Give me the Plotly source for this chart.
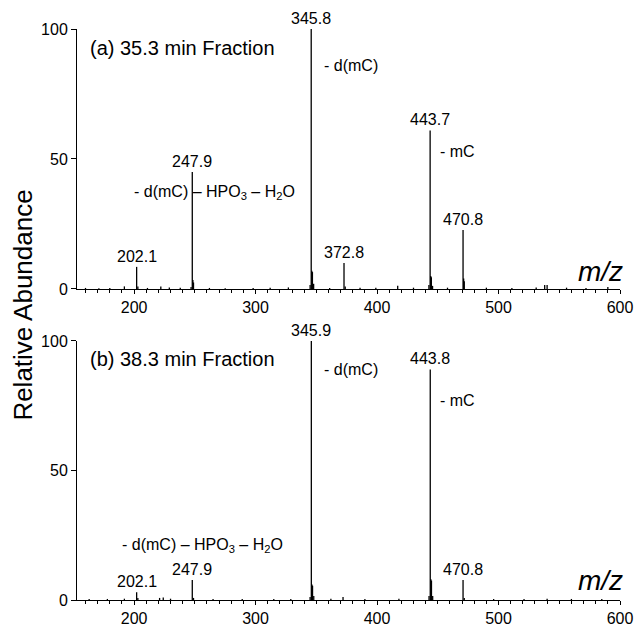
import plotly.graph_objects as go

# ---- data ----
mz_a = [160, 171, 180, 192, 202.1, 203.1, 211, 222, 229, 238, 246.9, 247.9, 248.4, 248.9,
        262, 275, 298, 312, 327, 344.9, 345.8, 346.3, 346.8, 347.8, 361, 372.8, 373.8,
        386, 399, 417, 430, 442.7, 443.7, 444.2, 444.7, 445.7, 458, 470.8, 471.3, 471.8,
        490, 511, 531, 538, 540, 556, 572, 590]
int_a = [0.4, 0.3, 0.4, 1.0, 8.5, 1.0, 0.4, 1.0, 0.6, 0.5, 0.8, 45, 3.5, 2.5,
         0.4, 0.3, 0.4, 0.5, 0.6, 1.5, 100, 7, 6.5, 2, 0.4, 10, 1,
         0.5, 0.5, 1.2, 0.5, 1.5, 61, 5, 4.5, 1.2, 0.5, 22.7, 4, 3,
         0.5, 0.4, 0.6, 1.5, 1.5, 0.5, 0.4, 0.8]

mz_b = [163, 178, 192, 202.1, 203.1, 221, 224, 230, 247.9, 248.9, 265, 289, 315, 329,
        344.9, 345.9, 346.4, 346.9, 347.9, 362, 372, 390, 418, 442.8, 443.8, 444.3, 444.8,
        445.8, 470.8, 471.8, 496, 521, 540, 560, 585]
int_b = [0.4, 0.4, 0.5, 3, 0.8, 0.8, 1, 0.5, 7.7, 0.8, 0.4, 0.4, 0.4, 0.4,
         1.2, 100, 6, 5.5, 1.5, 0.5, 1.2, 0.4, 0.5, 1.5, 89, 8, 7.5,
         1.5, 7.7, 0.8, 0.4, 0.4, 0.5, 0.4, 0.4]

# labelled peaks: (m/z, intensity, label)
labels_a = [(202.1, 8.5, "202.1"), (247.9, 45, "247.9"), (345.8, 100, "345.8"),
            (372.8, 10, "372.8"), (443.7, 61, "443.7"), (470.8, 22.7, "470.8")]
labels_b = [(202.1, 3, "202.1"), (247.9, 7.7, "247.9"), (345.9, 100, "345.9"),
            (443.8, 89, "443.8"), (470.8, 7.7, "470.8")]

titles = ["(a) 35.3 min Fraction", "(b) 38.3 min Fraction"]
x_ticks = [200, 300, 400, 500, 600]
y_ticks = [0, 50, 100]

FONT = "Arial, Liberation Sans, sans-serif"


def sticks(mz, inten):
    xs, ys = [], []
    for m, i in zip(mz, inten):
        xs += [m, m, None]
        ys += [0, i, None]
    return xs, ys


fig = go.Figure()
for k, (mz, inten) in enumerate([(mz_a, int_a), (mz_b, int_b)]):
    xs, ys = sticks(mz, inten)
    fig.add_trace(go.Scatter(x=xs, y=ys, mode="lines",
                             line=dict(color="black", width=1.3),
                             xaxis="x" if k == 0 else "x2",
                             yaxis="y" if k == 0 else "y2",
                             showlegend=False, hoverinfo="skip"))

axis_common = dict(showline=True, linecolor="black", linewidth=1, mirror=False,
                   showgrid=False, zeroline=False, ticks="outside",
                   tickcolor="black", ticklen=5, tickwidth=1, automargin=False,
                   tickfont=dict(family=FONT, size=16, color="black"))

xax = dict(axis_common, range=[153, 600], tickvals=x_ticks, ticklen=4,
           minor=dict(ticks="outside", ticklen=3, tickcolor="black", dtick=10, tick0=0))
yax = dict(axis_common, range=[0, 100], tickvals=y_ticks)

fig.update_layout(
    width=635, height=627,
    margin=dict(l=77, r=15, t=29, b=27),
    paper_bgcolor="white", plot_bgcolor="white",
    font=dict(family=FONT, size=16, color="black"),
    xaxis=dict(xax, domain=[0, 1], anchor="y"),
    yaxis=dict(yax, domain=[0.5447, 1], anchor="x"),
    xaxis2=dict(xax, domain=[0, 1], anchor="y2"),
    yaxis2=dict(yax, domain=[0, 0.4536], anchor="x2"),
)

ann = []
for labs, xr, yr in [(labels_a, "x", "y"), (labels_b, "x2", "y2")]:
    for m, i, t in labs:
        ann.append(dict(x=m, y=i, xref=xr, yref=yr, text=t, showarrow=False,
                        xanchor="center", yanchor="bottom", yshift=0,
                        font=dict(size=16)))

sub_lbl = "- d(mC) – HPO<sub>3</sub> – H<sub>2</sub>O"
# top panel notes
ann += [
    dict(x=162, y=92.7, xref="x", yref="y", text=titles[0], xanchor="left", yanchor="middle",
         showarrow=False, font=dict(size=20)),
    dict(x=354.6, y=85.8, xref="x", yref="y", text="- d(mC)", xanchor="left", yanchor="middle",
         showarrow=False),
    dict(x=450.1, y=52.7, xref="x", yref="y", text="- mC", xanchor="left", yanchor="middle",
         showarrow=False),
    dict(x=198.3, y=37.3, xref="x", yref="y", text=sub_lbl, xanchor="left", yanchor="middle",
         showarrow=False),
    dict(x=1.009, y=6.9, xref="paper", yref="y", text="<i>m/z</i>", xanchor="right",
         yanchor="middle", showarrow=False, font=dict(size=28)),
]
# bottom panel notes
ann += [
    dict(x=162, y=93.1, xref="x2", yref="y2", text=titles[1], xanchor="left", yanchor="middle",
         showarrow=False, font=dict(size=20)),
    dict(x=354.6, y=88.9, xref="x2", yref="y2", text="- d(mC)", xanchor="left", yanchor="middle",
         showarrow=False),
    dict(x=450.1, y=77.0, xref="x2", yref="y2", text="- mC", xanchor="left", yanchor="middle",
         showarrow=False),
    dict(x=188.4, y=21.1, xref="x2", yref="y2", text=sub_lbl, xanchor="left", yanchor="middle",
         showarrow=False),
    dict(x=1.009, y=7.7, xref="paper", yref="y2", text="<i>m/z</i>", xanchor="right",
         yanchor="middle", showarrow=False, font=dict(size=28)),
]
# shared y title
ann.append(dict(x=-0.0994, y=0.5156, xref="paper", yref="paper", text="Relative Abundance",
                textangle=-90, showarrow=False, xanchor="center", yanchor="middle",
                font=dict(size=26)))

fig.update_layout(annotations=ann)
fig.write_html("out.html", config={"displayModeBar": False},
               post_script="document.body.style.margin='0';document.body.style.overflow='hidden';")
